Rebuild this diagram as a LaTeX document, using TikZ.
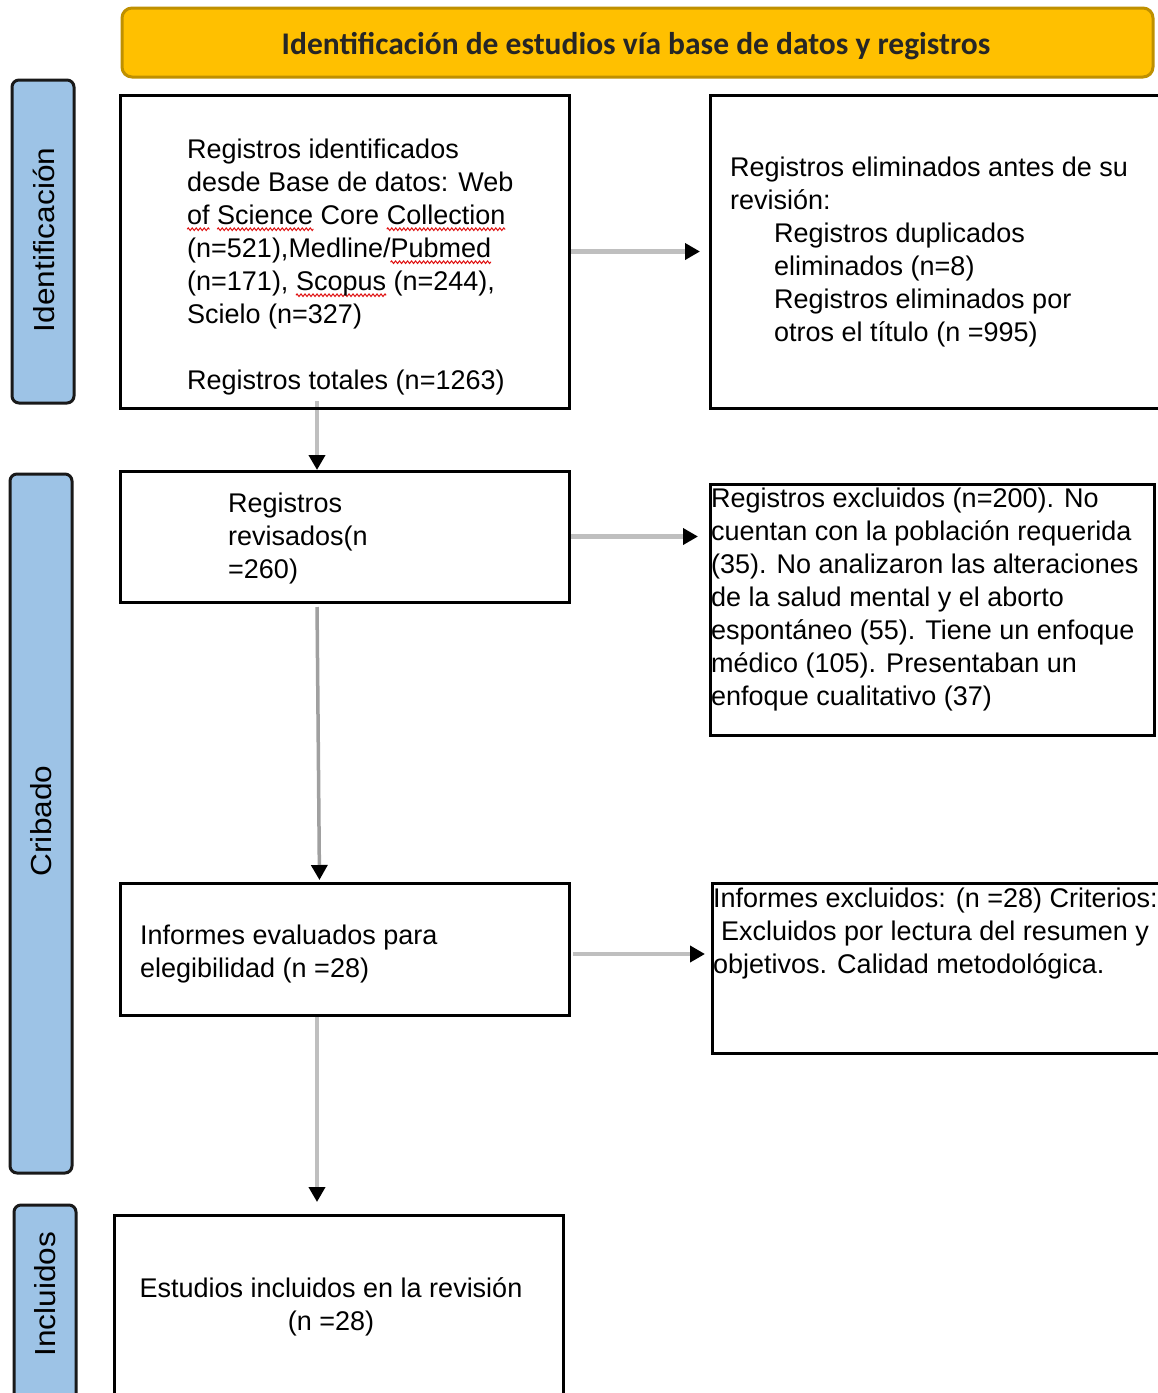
\documentclass[tikz,border=0pt]{standalone}
\usepackage{fontspec}
\setmainfont{Liberation Sans}
\newfontfamily\titlefont{Carlito}
\usetikzlibrary{arrows.meta,backgrounds,decorations.pathmorphing}
\definecolor{titlegold}{HTML}{FFC000}
\definecolor{titleedge}{HTML}{BF9000}
\definecolor{sideblue}{HTML}{9DC3E6}
\definecolor{linkgray}{HTML}{BFBFBF}
\definecolor{linkdark}{HTML}{A0A0A0}
\definecolor{spellred}{HTML}{E01010}
\newcommand\bodyfont{\fontsize{27}{33}\selectfont}
\newcommand\sidefont{\fontsize{29}{35}\selectfont}
\newlength\spellwd
\newcommand\spellmark[1]{\leavevmode\settowidth\spellwd{#1}\rlap{\tikz[overlay]\draw[spellred, line width=1pt, decorate, decoration={zigzag, amplitude=1.3pt, segment length=4pt}] (0pt,-5pt) -- (\spellwd,-5pt);}#1}
\begin{document}
\begin{tikzpicture}[x=1pt,y=-1pt,
  box/.style={draw=black, line width=3pt, inner sep=0pt, outer sep=0pt, anchor=north west},
  lane/.style={draw=black!90, fill=sideblue, line width=3pt, rounded corners=7pt, inner sep=0pt, outer sep=0pt, anchor=north west},
  txt/.style={anchor=north west, inner sep=0pt, align=left, font=\bodyfont},
  lanetxt/.style={anchor=base, inner sep=0pt, rotate=90, font=\sidefont},
  link/.style={draw=linkgray, line width=4.5pt, -{Triangle[length=15pt,width=16pt,color=black]}},
]
\useasboundingbox (0,0) rectangle (1158,1393);
\clip (0,0) rectangle (1158,1393);

% title bar
\node[draw=titleedge, fill=titlegold, line width=3pt, rounded corners=10pt,
      minimum width=1031pt, minimum height=69pt, anchor=north west,
      inner sep=0pt, outer sep=0pt] (title) at (122,8) {};
\node[font=\titlefont\bfseries\fontsize{31.5}{37}\selectfont, anchor=base, inner sep=0pt, text=black!85]
      (titletext) at (636,54) {Identificación de estudios vía base de datos y registros};

% side lanes
\node[lane, minimum width=62pt, minimum height=323pt] (laneI) at (12,80) {};
\node[lane, minimum width=62pt, minimum height=699pt] (laneC) at (10,474) {};
\node[lane, minimum width=62pt, minimum height=240pt] (laneN) at (14,1205) {};
\node[lanetxt] (laneItext) at (54.5,240) {\scalebox{1.09}[1]{Identificación}};
\node[lanetxt] (laneCtext) at (51.5,821) {\scalebox{1.09}[1]{Cribado}};
\node[lanetxt] (laneNtext) at (55,1294) {\scalebox{1.09}[1]{Incluidos}};

% boxes
\node[box, minimum width=449pt, minimum height=313pt] (A) at (120,95) {};
\node[box, minimum width=452pt, minimum height=313pt] (B) at (710,95) {};
\node[box, minimum width=449pt, minimum height=131pt] (C) at (120,471) {};
\node[box, minimum width=444pt, minimum height=251pt] (D) at (710,484) {};
\node[box, minimum width=449pt, minimum height=132pt] (E) at (120,883) {};
\node[box, minimum width=450pt, minimum height=170pt] (F) at (712,883) {};
\node[box, minimum width=449pt, minimum height=220pt] (G) at (114,1215) {};

% texts
\node[txt] (Atext) at (187,134.9) {\strut Registros identificados\\
  desde Base de datos: Web\\
  \spellmark{of} \spellmark{Science} Core \spellmark{Collection}\\
  (n=521),Medline/\spellmark{Pubmed}\\
  (n=171), \spellmark{Scopus} (n=244),\\
  Scielo (n=327)\\[33pt]
  Registros totales (n=1263)};
\node[txt] (Btext) at (730,152.9) {\strut Registros eliminados antes de su\\
  revisión:\\
  \hspace*{44pt}Registros duplicados\\
  \hspace*{44pt}eliminados (n=8)\\
  \hspace*{44pt}Registros eliminados por\\
  \hspace*{44pt}otros el título (n =995)};
\node[txt] (Ctext) at (228,488.9) {\strut Registros\\ revisados(n\\ =260)};
\node[txt] (Dtext) at (711,483.9) {\strut Registros excluidos (n=200). No\\
  cuentan con la población requerida\\
  (35). No analizaron las alteraciones\\
  de la salud mental y el aborto\\
  espontáneo (55). Tiene un enfoque\\
  médico (105). Presentaban un\\
  enfoque cualitativo (37)};
\node[txt] (Etext) at (140,920.9) {\strut Informes evaluados para\\ elegibilidad (n =28)};
\node[txt] (Ftext) at (713,883.9) {\strut Informes excluidos: (n =28) Criterios:\\
  \hspace*{8pt}Excluidos por lectura del resumen y\\
  objetivos. Calidad metodológica.};
\node[anchor=north, inner sep=0pt, align=center, font=\bodyfont] (Gtext) at (331,1273.9)
  {\strut Estudios incluidos en la revisión\\ (n =28)};

% connectors
\begin{scope}[on background layer]
\fill[white] (0,0) rectangle (1158,1393);
\draw[link, shorten >=10pt] (A.east) -- (A.east -| B.west);
\draw[link, shorten >=12pt] (C.east) -- (C.east -| D.west);
\draw[link, shorten <=4pt, shorten >=7pt] ([yshift=-5pt]E.east) -- ([yshift=-5pt]E.east -| F.west);
\draw[link, shorten <=-7pt, shorten >=1pt] ([xshift=-27.5pt]A.south) -- ([xshift=-27.5pt]C.north);
\draw[link, draw=linkdark, line width=3.5pt, shorten <=5pt, shorten >=3pt] ([xshift=-27.5pt]C.south) -- ([xshift=-25pt]E.north);
\draw[link, shorten >=13pt] ([xshift=-27.5pt]E.south) -- ([xshift=-21.5pt]G.north);
\end{scope}
\end{tikzpicture}
\end{document}
